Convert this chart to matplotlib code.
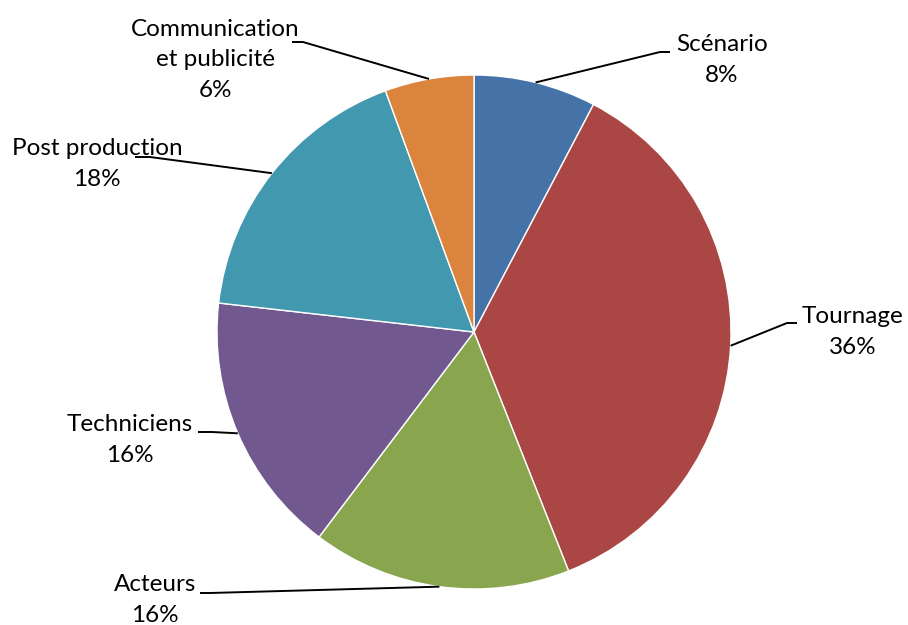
import numpy as np
import matplotlib
matplotlib.use("Agg")
import matplotlib.pyplot as plt

# Répartition du budget (en %)
postes = ["Scénario", "Tournage", "Acteurs", "Techniciens",
          "Post production", "Communication\net publicité"]
parts = [7.7, 36.3, 16.3, 16.5, 17.6, 5.6]
couleurs = ["#4572A7", "#AA4643", "#89A54E", "#71588F", "#4198AF", "#DB843D"]

W, H = 908, 625
cx, cy, r = 474, 332, 257

plt.rcParams["font.family"] = ["Lato", "DejaVu Sans"]

fig = plt.figure(figsize=(W / 100, H / 100), dpi=100)
ax = fig.add_axes([0, 0, 1, 1])

# y inversé : startangle=-90 = en haut, sens horaire à l'écran
ax.pie(parts, colors=couleurs, startangle=-90, counterclock=True,
       center=(cx, cy), radius=r, frame=True,
       wedgeprops=dict(edgecolor="white", linewidth=1))
ax.set_xlim(0, W)
ax.set_ylim(H, 0)
ax.set_aspect("equal")
ax.axis("off")

# position des étiquettes (texte, coude, fin du trait)
etiquettes = [
    ((722, 60), [(660, 52), (670, 52)]),
    ((853, 332), [(787, 323), (797, 323)]),
    ((155, 600), [(210, 593), (200, 593)]),
    ((130, 440), [(212, 432), (198, 432)]),
    ((97, 164), [(150, 157), (135, 157)]),
    ((215, 60), [(303, 42), (292, 42)]),
]

cum = np.cumsum([0] + parts[:-1])
for nom, p, c0, (pos, coude) in zip(postes, parts, cum, etiquettes):
    theta = np.deg2rad(-90 + 3.6 * (c0 + p / 2))
    x0, y0 = cx + r * np.cos(theta), cy + r * np.sin(theta)
    xs = [x0] + [q[0] for q in coude]
    ys = [y0] + [q[1] for q in coude]
    ax.plot(xs, ys, color="black", lw=1.4, solid_capstyle="butt")
    ax.text(pos[0], pos[1], f"{nom}\n{p:.0f}%", ha="center", va="center",
            fontsize=17.5, linespacing=1.55, color="black")

fig.savefig("out.png", dpi=100)
